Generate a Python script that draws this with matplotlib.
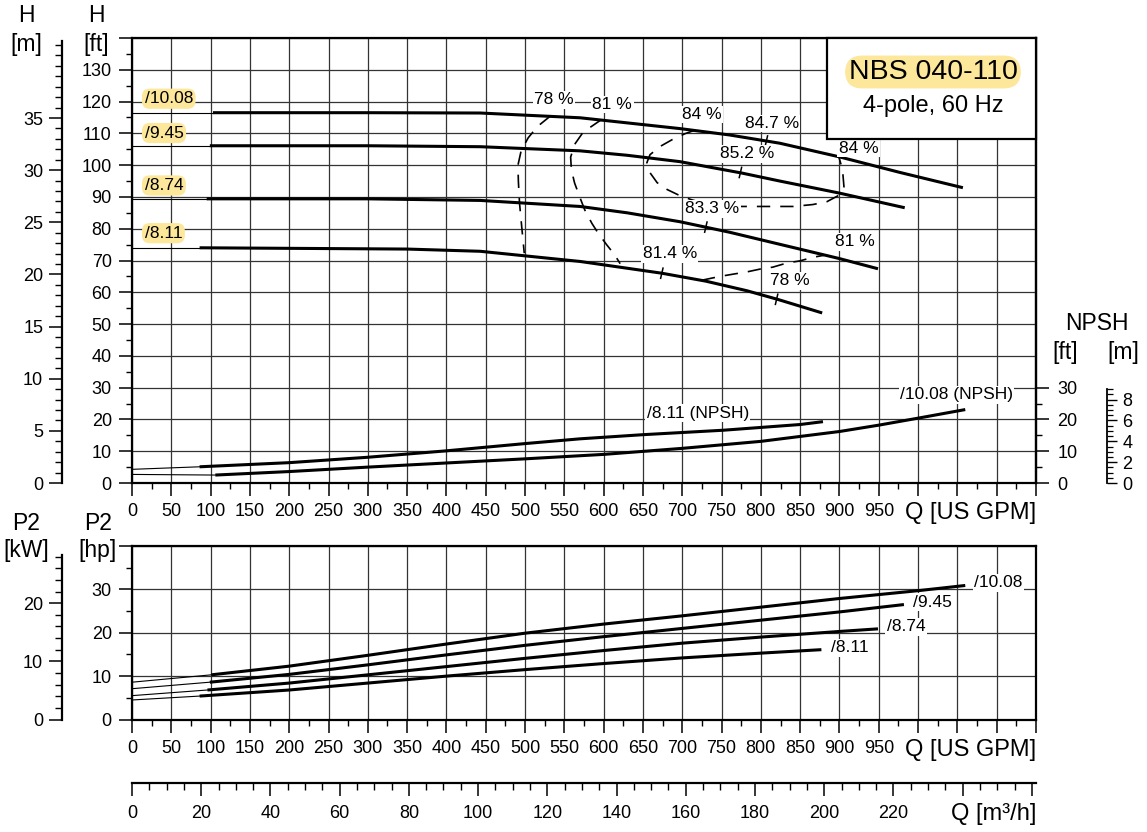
import numpy as np
import matplotlib
matplotlib.use('Agg')
import matplotlib.pyplot as plt
from matplotlib.ticker import MultipleLocator, FixedLocator, FuncFormatter
from matplotlib.patches import Rectangle

plt.rcParams['font.family'] = ['Liberation Sans', 'DejaVu Sans']

FT_PER_M = 3.28084
GPM_PER_M3H = 4.402868
HP_PER_KW = 1.341022

impellers = ['/10.08', '/9.45', '/8.74', '/8.11']

# head [ft] vs Q [US GPM]; first segment is the thin extension down to Q=0
q_h_1008 = [0, 103, 300, 443, 570, 697, 760, 824, 900, 977, 1057]
h_1008 = [116.5, 116.5, 116.5, 116.4, 114.9, 111.5, 109.5, 106.9, 102.6, 97.7, 92.9]
q_h_945 = [0, 99, 300, 443, 570, 630, 697, 776, 824, 900, 983]
h_945 = [106.1, 106.1, 106.1, 105.8, 104.5, 103.1, 101.1, 97.5, 95.0, 91.2, 86.6]
q_h_874 = [0, 95, 300, 443, 570, 630, 697, 760, 824, 900, 949]
h_874 = [89.4, 89.4, 89.4, 88.9, 87.0, 85.0, 82.2, 78.9, 75.1, 70.6, 67.4]
q_h_811 = [0, 86, 350, 443, 570, 674, 730, 782, 821, 878]
h_811 = [74.0, 74.0, 73.6, 72.9, 69.7, 66.0, 63.5, 60.5, 57.8, 53.5]

# NPSH [ft]
q_npsh_811 = [0, 86, 200, 300, 399, 500, 570, 650, 752, 850, 879]
npsh_811 = [4.3, 5.1, 6.4, 8.1, 10.1, 12.4, 13.9, 15.2, 16.6, 18.4, 19.3]
q_npsh_1008 = [0, 106, 200, 300, 400, 500, 600, 700, 800, 900, 950, 1000, 1060]
npsh_1008 = [2.7, 2.5, 3.6, 5.0, 6.3, 7.6, 9.0, 10.9, 13.1, 16.2, 18.2, 20.4, 23.1]

# shaft power P2 [hp]
q_p_1008 = [0, 101, 200, 300, 400, 500, 600, 700, 800, 900, 1000, 1060]
p_1008 = [8.6, 10.3, 12.3, 14.8, 17.4, 19.9, 22.0, 23.9, 25.9, 27.9, 29.7, 30.9]
q_p_945 = [0, 99, 200, 300, 400, 500, 600, 700, 800, 900, 982]
p_945 = [7.1, 8.6, 10.4, 12.6, 14.9, 17.1, 19.1, 21.0, 22.9, 24.8, 26.5]
q_p_874 = [0, 96, 200, 300, 400, 500, 600, 700, 800, 900, 949]
p_874 = [5.5, 6.8, 8.4, 10.3, 12.2, 14.1, 15.9, 17.6, 19.0, 20.3, 20.9]
q_p_811 = [0, 86, 200, 300, 400, 500, 600, 700, 800, 877]
p_811 = [4.5, 5.4, 6.8, 8.4, 10.0, 11.5, 12.9, 14.2, 15.3, 16.1]

# iso-efficiency lines (dashed)
q_eff78 = [532, 516, 504, 495, 491, 491.5, 493, 496, 499]
h_eff78 = [115.4, 112.2, 108.6, 104.5, 100, 95, 88, 80, 72.3]
q_eff81a = [597, 587, 574, 563, 558, 559, 563, 570, 576, 585, 593, 604, 614, 621]
h_eff81a = [114.3, 112.6, 110.4, 106.5, 102.5, 98.5, 94.4, 89.7, 85.9, 81.7, 78.6, 74.9, 71.8, 69.0]
q_eff81b = [725, 748, 767, 782, 799, 815, 833, 850, 866, 884]
h_eff81b = [63.8, 65.0, 65.8, 66.4, 67.3, 67.9, 69.2, 69.9, 71.0, 71.8]
q_eff84 = [715, 703.5, 687, 672, 659, 655, 659, 668, 681, 697, 712, 729, 754, 799, 841, 866, 884, 900.6, 905.7, 904.4, 902, 899.4]
h_eff84 = [110.9, 109.9, 108.0, 105.9, 103.3, 100.8, 97.6, 94.5, 92.3, 90.4, 89.1, 87.9, 87.0, 87.0, 87.0, 87.6, 88.5, 90.7, 93.2, 97.0, 100.2, 102.4]

# short marks on the head curves (best efficiency points etc.)
mark_q = [807, 774, 730, 674, 820]
mark_h = [107.6, 97.7, 80.5, 66.0, 57.8]

eff_text = ['78 %', '81 %', '84 %', '84.7 %', '85.2 %', '84 %', '83.3 %', '81 %', '81.4 %', '78 %']
eff_text_q = [537, 611, 725, 814, 782, 924, 738, 920, 684, 837]
eff_text_h = [120.6, 119.1, 115.9, 113.1, 103.6, 105.3, 86.3, 75.9, 72.1, 63.6]

head_q = [q_h_1008, q_h_945, q_h_874, q_h_811]
head_h = [h_1008, h_945, h_874, h_811]
pow_q = [q_p_1008, q_p_945, q_p_874, q_p_811]
pow_p = [p_1008, p_945, p_874, p_811]

# label positions
head_lab_h = [120.9, 110.1, 93.6, 78.6]
pow_lab_q = [1071, 993, 960, 889]
pow_lab_p = [31.5, 27.0, 21.4, 16.5]

W, HP = 1147, 832
def fx(px):
    return px / W
def fy(py):
    return 1 - py / HP

fig = plt.figure(figsize=(W / 100, HP / 100), dpi=100)

ax = fig.add_axes([fx(132), fy(483), fx(1036) - fx(132), fy(38) - fy(483)])
axp = fig.add_axes([fx(132), fy(719.5), fx(1036) - fx(132), fy(546) - fy(719.5)])

SPW = 1.6
TICKFS = 13
GRIDC = '#333333'

def style_q(a):
    a.set_xlim(0, 1150)
    a.xaxis.set_major_locator(MultipleLocator(50))
    a.xaxis.set_minor_locator(MultipleLocator(25))
    a.xaxis.set_major_formatter(FuncFormatter(lambda v, p: '%d' % v if v <= 950 else ''))
    a.tick_params(axis='x', which='major', length=9.5, width=1.1, pad=5, labelsize=TICKFS)
    a.tick_params(axis='x', which='minor', length=4.5, width=1.0)
    a.tick_params(axis='y', which='major', length=9.5, width=1.1, pad=5, labelsize=TICKFS)
    a.tick_params(axis='y', which='minor', length=4.5, width=1.0)
    a.grid(True, which='major', color=GRIDC, lw=0.9)
    a.set_axisbelow(True)
    for s in a.spines.values():
        s.set_linewidth(SPW)

def thin_thick(a, q, v):
    a.plot(q[:2], v[:2], color='black', lw=0.8, zorder=3)
    a.plot(q[1:], v[1:], color='black', lw=2.2, zorder=3, solid_capstyle='butt')

# ---- head / NPSH panel
style_q(ax)
ax.set_ylim(0, 140)
ax.yaxis.set_major_locator(MultipleLocator(10))
ax.yaxis.set_minor_locator(MultipleLocator(5))
ax.yaxis.set_major_formatter(FuncFormatter(lambda v, p: '%d' % v if v <= 130 else ''))

for q, h in zip(head_q, head_h):
    thin_thick(ax, q, h)
thin_thick(ax, q_npsh_811, npsh_811)
thin_thick(ax, q_npsh_1008, npsh_1008)

dash = (0, (8, 6))
for q, h in [(q_eff78, h_eff78), (q_eff81a, h_eff81a), (q_eff81b, h_eff81b), (q_eff84, h_eff84)]:
    ax.plot(q, h, color='black', lw=1.2, ls=dash, zorder=3)
for q, h in zip(mark_q, mark_h):
    ax.plot([q + 1.5, q - 1.5], [h + 1.6, h - 1.6], color='black', lw=1.1, zorder=3)

wbox = dict(boxstyle='square,pad=0.08', fc='white', ec='none')
for t, q, h in zip(eff_text, eff_text_q, eff_text_h):
    ax.text(q, h, t, fontsize=12.5, ha='center', va='center', bbox=wbox, zorder=4)

ybox = dict(boxstyle='round,pad=0.15,rounding_size=0.45', fc='#FCE79A', ec='none')
for name, h in zip(impellers, head_lab_h):
    ax.text(16, h, name, fontsize=12.5, ha='left', va='center', bbox=ybox, zorder=4)

ax.text(720, 22.0, '/8.11 (NPSH)', fontsize=12.5, ha='center', va='center', bbox=wbox, zorder=4)
ax.text(1049, 27.7, '/10.08 (NPSH)', fontsize=12.5, ha='center', va='center', bbox=wbox, zorder=4)

# title box
bx0 = (827 - 132) / 904
by0 = (483 - 139) / 445
ax.add_patch(Rectangle((bx0, by0), 1 - bx0, 1 - by0, transform=ax.transAxes,
                       fc='white', ec='black', lw=SPW, zorder=5, clip_on=False))
ax.text((933 - 132) / 904, (483 - 72) / 445, 'NBS 040-110', transform=ax.transAxes,
        fontsize=20.5, ha='center', va='center', zorder=6,
        bbox=dict(boxstyle='round,pad=0.12,rounding_size=0.6', fc='#FCE79A', ec='none'))
ax.text((933 - 132) / 904, (483 - 106) / 445, '4-pole, 60 Hz', transform=ax.transAxes,
        fontsize=17, ha='center', va='center', zorder=6)

# NPSH ft scale on the right spine
sec = ax.secondary_yaxis('right')
sec.yaxis.set_major_locator(FixedLocator([0, 10, 20, 30]))
sec.yaxis.set_minor_locator(FixedLocator([5, 15, 25]))
sec.tick_params(which='major', length=9.5, width=1.1, pad=6, labelsize=TICKFS)
sec.tick_params(which='minor', length=4.5, width=1.0)
sec.spines['right'].set_linewidth(SPW)

# H metre scale
axm = fig.add_axes([fx(62), fy(483), 0.0001, fy(38) - fy(483)])
axm.set_ylim(0, 140 / FT_PER_M)
axm.xaxis.set_visible(False)
axm.patch.set_visible(False)
for k in ['top', 'right', 'bottom']:
    axm.spines[k].set_visible(False)
axm.spines['left'].set_linewidth(SPW)
axm.spines['left'].set_bounds(0, 42.4)
axm.yaxis.set_major_locator(FixedLocator([0, 5, 10, 15, 20, 25, 30, 35]))
axm.yaxis.set_minor_locator(MultipleLocator(1))
axm.tick_params(which='major', length=9.5, width=1.1, pad=4, labelsize=TICKFS)
axm.tick_params(which='minor', length=5, width=1.0)

# NPSH metre scale
axn = fig.add_axes([fx(1107) - 0.0001, fy(483), 0.0001, fy(38) - fy(483)])
axn.set_ylim(0, 140 / FT_PER_M)
axn.xaxis.set_visible(False)
axn.patch.set_visible(False)
for k in ['top', 'left', 'bottom']:
    axn.spines[k].set_visible(False)
axn.spines['right'].set_linewidth(1.3)
axn.spines['right'].set_bounds(0, 9)
axn.yaxis.tick_right()
axn.yaxis.set_major_locator(FixedLocator([0, 2, 4, 6, 8]))
axn.yaxis.set_minor_locator(FixedLocator(np.arange(0, 9.01, 0.5)))
axn.tick_params(which='major', length=7, width=1.0, pad=4, labelsize=TICKFS)
axn.tick_params(which='minor', length=4, width=0.9)

# ---- power panel
style_q(axp)
axp.set_ylim(0, 40)
axp.yaxis.set_major_locator(MultipleLocator(10))
axp.yaxis.set_minor_locator(MultipleLocator(5))
axp.yaxis.set_major_formatter(FuncFormatter(lambda v, p: '%d' % v if v <= 30 else ''))
for q, p in zip(pow_q, pow_p):
    thin_thick(axp, q, p)
for name, q, p in zip(impellers, pow_lab_q, pow_lab_p):
    axp.text(q, p, name, fontsize=12.5, ha='left', va='center', bbox=wbox, zorder=4)

axk = fig.add_axes([fx(62), fy(719.5), 0.0001, fy(546) - fy(719.5)])
axk.set_ylim(0, 40 / HP_PER_KW)
axk.xaxis.set_visible(False)
axk.patch.set_visible(False)
for k in ['top', 'right', 'bottom']:
    axk.spines[k].set_visible(False)
axk.spines['left'].set_linewidth(SPW)
axk.spines['left'].set_bounds(0, 28.3)
axk.yaxis.set_major_locator(FixedLocator([0, 10, 20]))
axk.yaxis.set_minor_locator(MultipleLocator(2))
axk.tick_params(which='major', length=9.5, width=1.1, pad=4, labelsize=TICKFS)
axk.tick_params(which='minor', length=5, width=1.0)

# ---- m3/h scale
axq = fig.add_axes([fx(132), fy(783), fx(1036) - fx(132), 0.0001])
axq.set_xlim(0, 1150 / GPM_PER_M3H)
axq.yaxis.set_visible(False)
axq.patch.set_visible(False)
for k in ['top', 'left', 'right']:
    axq.spines[k].set_visible(False)
axq.spines['bottom'].set_linewidth(SPW)
axq.xaxis.set_major_locator(FixedLocator(np.arange(0, 261, 20)))
axq.xaxis.set_minor_locator(MultipleLocator(5))
axq.xaxis.set_major_formatter(FuncFormatter(lambda v, p: '%d' % v if v <= 220 else ''))
axq.tick_params(which='major', length=9.5, width=1.1, pad=6, labelsize=TICKFS)
axq.tick_params(which='minor', length=5, width=1.0)

# axis titles
LFS = 16.5
fig.text(fx(26), fy(16), 'H', fontsize=LFS, ha='center', va='center')
fig.text(fx(26), fy(44), '[m]', fontsize=LFS, ha='center', va='center')
fig.text(fx(96), fy(16), 'H', fontsize=LFS, ha='center', va='center')
fig.text(fx(96), fy(44), '[ft]', fontsize=LFS, ha='center', va='center')
fig.text(fx(26), fy(524), 'P2', fontsize=LFS, ha='center', va='center')
fig.text(fx(26), fy(551), '[kW]', fontsize=LFS, ha='center', va='center')
fig.text(fx(98), fy(524), 'P2', fontsize=LFS, ha='center', va='center')
fig.text(fx(98), fy(551), '[hp]', fontsize=LFS, ha='center', va='center')
fig.text(fx(1097), fy(323), 'NPSH', fontsize=LFS, ha='center', va='center')
fig.text(fx(1065), fy(352), '[ft]', fontsize=LFS, ha='center', va='center')
fig.text(fx(1123), fy(352), '[m]', fontsize=LFS, ha='center', va='center')
fig.text(fx(1036), fy(513), 'Q [US GPM]', fontsize=17, ha='right', va='center')
fig.text(fx(1036), fy(750), 'Q [US GPM]', fontsize=17, ha='right', va='center')
fig.text(fx(1036), fy(814), 'Q [m³/h]', fontsize=17, ha='right', va='center')

plt.savefig('out.png', dpi=100)
